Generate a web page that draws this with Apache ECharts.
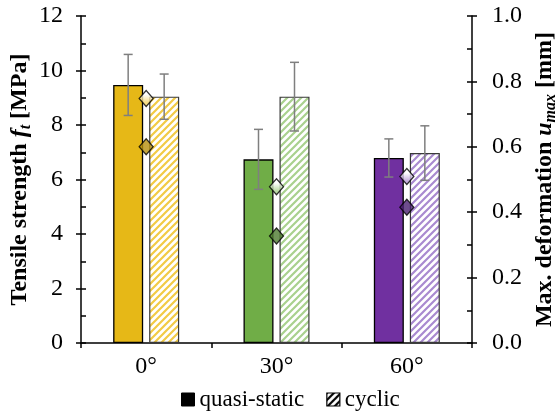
<!DOCTYPE html>
<html>
<head>
<meta charset="utf-8">
<script src="https://cdn.jsdelivr.net/npm/echarts@6/dist/echarts.min.js"></script>
<style>
html,body{margin:0;padding:0;background:#fff;}
#chart{width:555px;height:413px;}
</style>
</head>
<body>
<div id="chart"></div>
<script>
// ---- data ----
const categories = ['0°', '30°', '60°'];
const quasiStrength = [9.47, 6.74, 6.79];
const quasiStrengthErr = [1.12, 1.10, 0.70];
const cyclicStrength = [9.04, 9.04, 6.97];
const cyclicStrengthErr = [0.83, 1.26, 1.00];
const quasiDeform = [0.600, 0.327, 0.415];
const cyclicDeform = [0.748, 0.478, 0.509];
const leftTicks = [0, 2, 4, 6, 8, 10, 12];
const rightTicks = [0.0, 0.2, 0.4, 0.6, 0.8, 1.0];

// ---- styling ----
const FONT = '"Liberation Serif", "Times New Roman", serif';
const barColors = ['#E6B817', '#70AD47', '#7030A0'];
const hatchColors = ['#F2CB45', '#A9D18E', '#A98AD0'];
const quasiDiamondColors = ['#B58E0C', '#4E7A30', '#4A2070'];
const cyclicStripeColors = ['#F3D366', '#A9D18E', '#B79AD6'];

function diagPattern(color, bg) {
  const s = 7;
  const c = document.createElement('canvas');
  c.width = s; c.height = s;
  const g = c.getContext('2d');
  g.fillStyle = bg; g.fillRect(0, 0, s, s);
  g.strokeStyle = color; g.lineWidth = 2.2;
  g.beginPath();
  g.moveTo(-1, s + 1); g.lineTo(s + 1, -1);
  g.moveTo(-1 - s, s + 1); g.lineTo(1, -1);
  g.moveTo(s - 1, s + 1); g.lineTo(2 * s + 1, -1);
  g.stroke();
  return { image: c, repeat: 'repeat' };
}
function horizPattern(color, bg) {
  const s = 4;
  const c = document.createElement('canvas');
  c.width = s; c.height = s;
  const g = c.getContext('2d');
  g.fillStyle = bg; g.fillRect(0, 0, s, s);
  g.fillStyle = color; g.fillRect(0, 0, s, 2);
  return { image: c, repeat: 'repeat' };
}

const HALF = 18; // bar center offset from category center (barWidth 30 + gap 6)

function errorSeries(values, errs, sign) {
  return {
    type: 'custom',
    xAxisIndex: 0, yAxisIndex: 0, z: 5,
    silent: true,
    encode: { x: 0, y: [1, 2] },
    data: values.map((v, i) => [i, v - errs[i], v + errs[i]]),
    renderItem: function (params, api) {
      const lo = api.coord([api.value(0), api.value(1)]);
      const hi = api.coord([api.value(0), api.value(2)]);
      const x = lo[0] + sign * HALF;
      const cap = 4.5;
      const st = { stroke: '#7F7F7F', lineWidth: 1.5 };
      return {
        type: 'group',
        children: [
          { type: 'line', shape: { x1: x, y1: lo[1], x2: x, y2: hi[1] }, style: st },
          { type: 'line', shape: { x1: x - cap, y1: lo[1], x2: x + cap, y2: lo[1] }, style: st },
          { type: 'line', shape: { x1: x - cap, y1: hi[1], x2: x + cap, y2: hi[1] }, style: st }
        ]
      };
    }
  };
}

const axisLineStyle = { color: '#000', width: 1.5 };
const richName = {
  fi: { fontFamily: FONT, fontSize: 24, fontWeight: 'bold', fontStyle: 'italic', color: '#000', lineHeight: 28 },
  sub: { fontFamily: FONT, fontSize: 16, fontWeight: 'bold', fontStyle: 'italic', color: '#000', lineHeight: 18, verticalAlign: 'bottom' }
};
const gridRect = { left: 81, right: 83, top: 16, bottom: 70, containLabel: false, outerBoundsMode: 'none' };

const chart = echarts.init(document.getElementById('chart'), null, { renderer: 'canvas' });
chart.setOption({
  backgroundColor: '#fff',
  animation: false,
  textStyle: { fontFamily: FONT },
  grid: [Object.assign({}, gridRect), Object.assign({}, gridRect)],
  legend: {
    left: 176, top: 383,
    itemWidth: 13, itemHeight: 13, itemGap: 22,
    textStyle: { fontFamily: FONT, fontSize: 23, color: '#000' },
    data: [
      { name: 'quasi-static', icon: 'rect', itemStyle: { color: '#000', borderColor: '#000', borderWidth: 1 } },
      { name: 'cyclic', icon: 'rect', itemStyle: { color: diagPattern('#000', '#fff'), borderColor: '#000', borderWidth: 1.2 } }
    ],
    selectedMode: false
  },
  xAxis: [
    {
      type: 'category', gridIndex: 0,
      data: categories,
      axisLine: { show: true, lineStyle: axisLineStyle },
      axisTick: { show: true, alignWithLabel: false, interval: 0, length: 5, lineStyle: axisLineStyle },
      axisLabel: { fontFamily: FONT, fontSize: 24, color: '#000', margin: 12 },
      splitLine: { show: false }
    },
    {
      type: 'category', gridIndex: 1, data: categories, show: false
    }
  ],
  yAxis: [
    {
      type: 'value', gridIndex: 0, position: 'left', min: leftTicks[0], max: leftTicks[leftTicks.length - 1], interval: leftTicks[1] - leftTicks[0],
      axisLine: { show: true, lineStyle: axisLineStyle },
      axisTick: { show: true, length: 5, lineStyle: axisLineStyle },
      axisLabel: { fontFamily: FONT, fontSize: 24, color: '#000', margin: 18 },
      splitLine: { show: false },
      name: 'Tensile strength {fi|f}{sub|t} [MPa]',
      nameLocation: 'middle', nameRotate: 90, nameGap: 47, nameMoveOverlap: false,
      nameTextStyle: { fontFamily: FONT, fontSize: 24, fontWeight: 'bold', color: '#000', lineHeight: 28, rich: richName }
    },
    {
      type: 'value', gridIndex: 0, position: 'right', min: rightTicks[0], max: rightTicks[rightTicks.length - 1], interval: 0.2,
      axisLine: { show: true, lineStyle: axisLineStyle },
      axisTick: { show: true, length: 5, lineStyle: axisLineStyle },
      axisLabel: { fontFamily: FONT, fontSize: 24, color: '#000', margin: 20, formatter: v => v.toFixed(1) },
      splitLine: { show: false },
      name: 'Max. deformation {fi|u}{sub|max} [mm]',
      nameLocation: 'middle', nameRotate: 90, nameGap: 59, nameMoveOverlap: false,
      nameTextStyle: { fontFamily: FONT, fontSize: 24, fontWeight: 'bold', color: '#000', lineHeight: 28, rich: richName }
    },
    {
      type: 'value', gridIndex: 1, position: 'left', min: 0, max: 12, interval: 2,
      axisLine: { show: false },
      axisTick: { show: true, inside: true, length: 5, lineStyle: axisLineStyle },
      minorTick: { show: true, splitNumber: 2, length: 5, lineStyle: { color: '#000', width: 1.5 } },
      axisLabel: { show: false }, splitLine: { show: false }
    },
    {
      type: 'value', gridIndex: 1, position: 'right', min: 0, max: 1, interval: 0.2,
      axisLine: { show: false },
      axisTick: { show: true, inside: true, length: 5, lineStyle: axisLineStyle },
      minorTick: { show: true, splitNumber: 2, length: 5, lineStyle: { color: '#000', width: 1.5 } },
      axisLabel: { show: false }, splitLine: { show: false }
    }
  ],
  series: [
    {
      name: 'quasi-static', type: 'bar', xAxisIndex: 0, yAxisIndex: 0,
      barWidth: 30, barGap: '20%',
      itemStyle: { color: '#000', borderColor: '#000', borderWidth: 1.3 },
      data: quasiStrength.map((v, i) => ({ value: v, itemStyle: { color: barColors[i], borderColor: '#000', borderWidth: 1.3 } }))
    },
    {
      name: 'cyclic', type: 'bar', xAxisIndex: 0, yAxisIndex: 0,
      barWidth: 30, barGap: '20%',
      itemStyle: { color: diagPattern('#000', '#fff'), borderColor: '#000', borderWidth: 1.2 },
      data: cyclicStrength.map((v, i) => ({ value: v, itemStyle: { color: diagPattern(hatchColors[i], '#fff'), borderColor: '#3a3a3a', borderWidth: 1.2 } }))
    },
    errorSeries(quasiStrength, quasiStrengthErr, -1),
    errorSeries(cyclicStrength, cyclicStrengthErr, 1),
    {
      name: 'quasi-deform', type: 'scatter', xAxisIndex: 0, yAxisIndex: 1, z: 6,
      symbol: 'diamond', symbolSize: [14, 16],
      data: quasiDeform.map((v, i) => ({ value: v, itemStyle: { color: quasiDiamondColors[i], borderColor: '#000', borderWidth: 1.3 } }))
    },
    {
      name: 'cyclic-deform', type: 'scatter', xAxisIndex: 0, yAxisIndex: 1, z: 6,
      symbol: 'diamond', symbolSize: [14, 16],
      data: cyclicDeform.map((v, i) => ({ value: v, itemStyle: { color: horizPattern(cyclicStripeColors[i], '#fff'), borderColor: '#000', borderWidth: 1.3 } }))
    }
  ]
});
</script>
</body>
</html>
